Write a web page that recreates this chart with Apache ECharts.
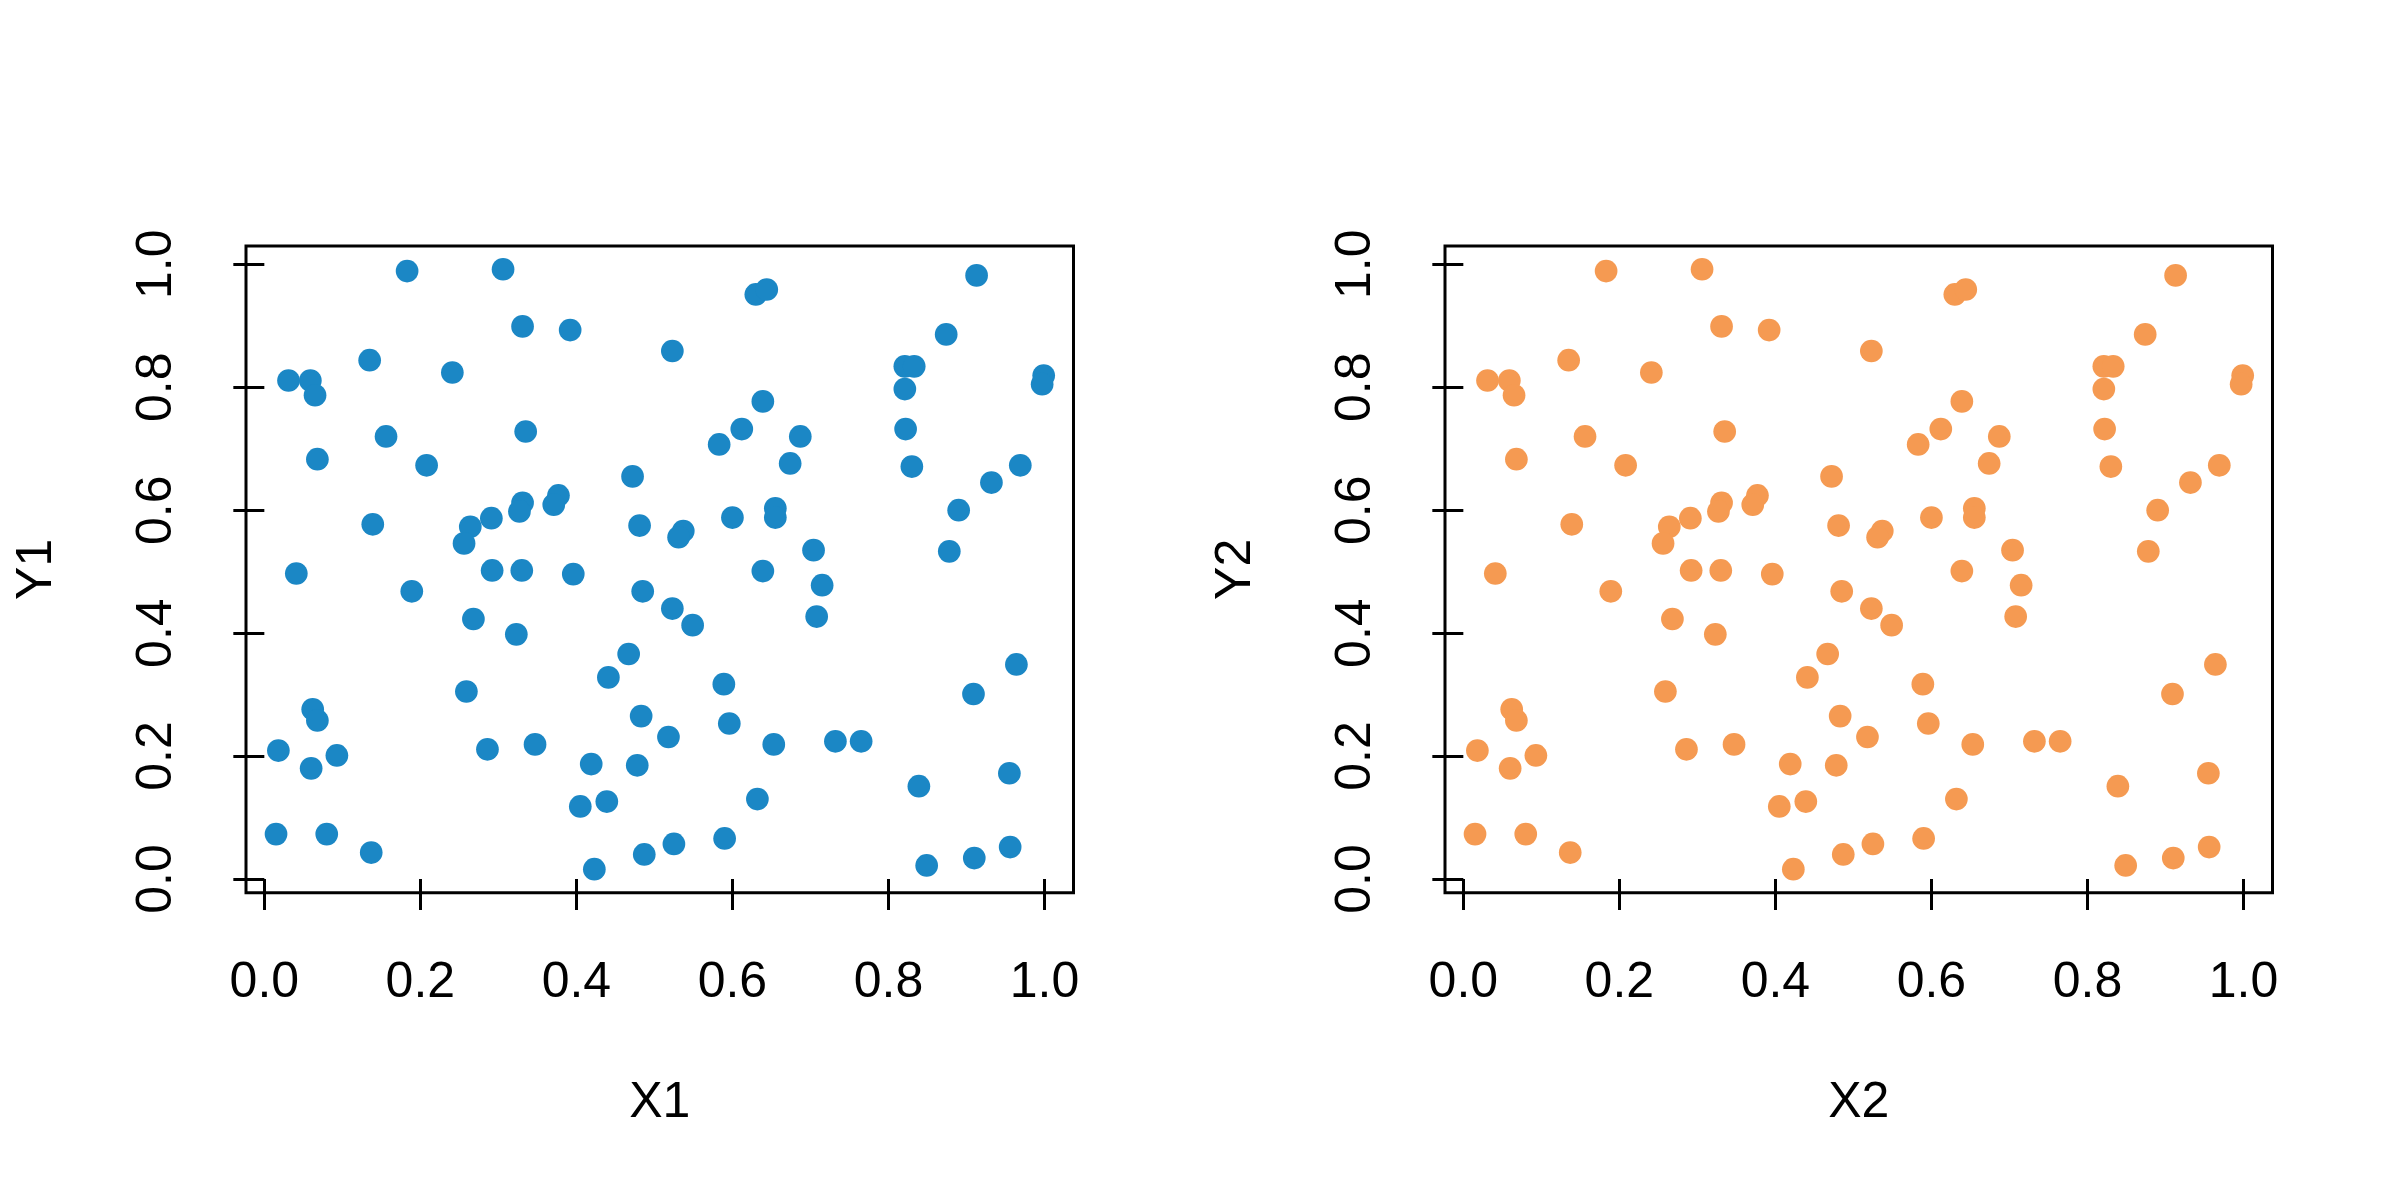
<!DOCTYPE html>
<html>
<head>
<meta charset="utf-8">
<style>
  html, body { margin: 0; padding: 0; background: #ffffff; }
  #chart { width: 2400px; height: 1200px; }
</style>
<script src="https://cdn.jsdelivr.net/npm/echarts@6/dist/echarts.min.js"></script>
</head>
<body>
<div id="chart"></div>
<script>
// ---- data ----
const X1 = [0.183,0.306,0.331,0.392,0.523,0.135,0.031,0.059,0.065,0.241,0.156,0.335,0.068,0.208,0.472,0.377,0.371,0.331,0.327,0.291,0.264,0.256,0.139,0.481,0.041,0.292,0.330,0.396,0.189,0.485,0.913,0.630,0.644,0.874,0.821,0.833,0.999,0.997,0.821,0.639,0.612,0.583,0.687,0.674,0.822,0.830,0.969,0.932,0.890,0.878,0.600,0.655,0.655,0.537,0.531,0.704,0.639,0.715,0.523,0.268,0.323,0.467,0.441,0.259,0.483,0.518,0.062,0.068,0.018,0.093,0.060,0.286,0.347,0.419,0.478,0.405,0.439,0.015,0.080,0.137,0.423,0.487,0.525,0.549,0.708,0.964,0.909,0.589,0.596,0.653,0.732,0.765,0.839,0.955,0.632,0.590,0.849,0.910,0.956];
const Y1 = [0.989,0.992,0.899,0.893,0.859,0.844,0.811,0.811,0.787,0.824,0.720,0.728,0.683,0.673,0.655,0.624,0.609,0.612,0.598,0.587,0.573,0.546,0.577,0.575,0.497,0.502,0.502,0.496,0.468,0.468,0.982,0.951,0.959,0.886,0.834,0.834,0.819,0.805,0.797,0.777,0.732,0.707,0.720,0.676,0.732,0.671,0.673,0.645,0.600,0.533,0.588,0.603,0.588,0.566,0.556,0.535,0.501,0.478,0.440,0.423,0.398,0.366,0.328,0.305,0.265,0.231,0.276,0.258,0.209,0.201,0.180,0.211,0.219,0.187,0.185,0.118,0.126,0.073,0.073,0.043,0.016,0.040,0.057,0.413,0.427,0.349,0.301,0.317,0.253,0.219,0.224,0.224,0.151,0.172,0.130,0.066,0.022,0.034,0.052];
const X2 = [0.183,0.306,0.331,0.392,0.523,0.135,0.031,0.059,0.065,0.241,0.156,0.335,0.068,0.208,0.472,0.377,0.371,0.331,0.327,0.291,0.264,0.256,0.139,0.481,0.041,0.292,0.330,0.396,0.189,0.485,0.913,0.630,0.644,0.874,0.821,0.833,0.999,0.997,0.821,0.639,0.612,0.583,0.687,0.674,0.822,0.830,0.969,0.932,0.890,0.878,0.600,0.655,0.655,0.537,0.531,0.704,0.639,0.715,0.523,0.268,0.323,0.467,0.441,0.259,0.483,0.518,0.062,0.068,0.018,0.093,0.060,0.286,0.347,0.419,0.478,0.405,0.439,0.015,0.080,0.137,0.423,0.487,0.525,0.549,0.708,0.964,0.909,0.589,0.596,0.653,0.732,0.765,0.839,0.955,0.632,0.590,0.849,0.910,0.956];
const Y2 = [0.989,0.992,0.899,0.893,0.859,0.844,0.811,0.811,0.787,0.824,0.720,0.728,0.683,0.673,0.655,0.624,0.609,0.612,0.598,0.587,0.573,0.546,0.577,0.575,0.497,0.502,0.502,0.496,0.468,0.468,0.982,0.951,0.959,0.886,0.834,0.834,0.819,0.805,0.797,0.777,0.732,0.707,0.720,0.676,0.732,0.671,0.673,0.645,0.600,0.533,0.588,0.603,0.588,0.566,0.556,0.535,0.501,0.478,0.440,0.423,0.398,0.366,0.328,0.305,0.265,0.231,0.276,0.258,0.209,0.201,0.180,0.211,0.219,0.187,0.185,0.118,0.126,0.073,0.073,0.043,0.016,0.040,0.057,0.413,0.427,0.349,0.301,0.317,0.253,0.219,0.224,0.224,0.151,0.172,0.130,0.066,0.022,0.034,0.052];
const TICKS = [0, 0.2, 0.4, 0.6, 0.8, 1.0];
const TICK_LABELS = ['0.0', '0.2', '0.4', '0.6', '0.8', '1.0'];
const X_NAMES = ['X1', 'X2'];
const Y_NAMES = ['Y1', 'Y2'];
const COLORS = ['#1b87c5', '#f59a52'];

// ---- layout ----
const FONT = 'Liberation Sans, Arial, Helvetica, sans-serif';
const FS = 50;
const gridLefts = [246, 1445];
const labelFmt = v => TICK_LABELS[TICKS.findIndex(t => Math.abs(t - v) < 1e-9)] || '';

function xAxis(i) {
  return {
    type: 'value', gridIndex: i, min: -0.0235, max: 1.0372,
    name: X_NAMES[i], nameLocation: 'middle', nameGap: 186,
    nameTextStyle: { fontFamily: FONT, fontSize: FS, color: '#000' },
    axisLine: { show: false },
    splitLine: { show: false },
    axisTick: { show: true, inside: false, length: 31, customValues: TICKS,
                lineStyle: { color: '#000', width: 3 } },
    axisLabel: { show: true, customValues: TICKS, margin: 66, formatter: labelFmt,
                 fontFamily: FONT, fontSize: FS, color: '#000', hideOverlap: false }
  };
}
function yAxis(i) {
  return {
    type: 'value', gridIndex: i, min: -0.0223, max: 1.0298,
    name: Y_NAMES[i], nameLocation: 'middle', nameGap: 184,
    nameTextStyle: { fontFamily: FONT, fontSize: FS, color: '#000' },
    axisLine: { show: false },
    splitLine: { show: false },
    axisTick: { show: true, inside: false, length: 31, customValues: TICKS,
                lineStyle: { color: '#000', width: 3 } },
    axisLabel: { show: true, customValues: TICKS, margin: 64, rotate: 90, formatter: labelFmt,
                 fontFamily: FONT, fontSize: FS, color: '#000', hideOverlap: false }
  };
}

const chart = echarts.init(document.getElementById('chart'), null, { renderer: 'canvas' });
chart.setOption({
  backgroundColor: '#ffffff',
  animation: false,
  grid: gridLefts.map(l => ({
    left: l, top: 246, width: 827.5, height: 646.7,
    show: true, borderColor: '#000', borderWidth: 3, backgroundColor: 'transparent',
    containLabel: false
  })),
  xAxis: [xAxis(0), xAxis(1)],
  yAxis: [yAxis(0), yAxis(1)],
  series: [
    { type: 'scatter', xAxisIndex: 0, yAxisIndex: 0, symbol: 'circle', symbolSize: 22.7,
      itemStyle: { color: COLORS[0], opacity: 1 }, emphasis: { disabled: true },
      data: X1.map((x, k) => [x, Y1[k]]) },
    { type: 'scatter', xAxisIndex: 1, yAxisIndex: 1, symbol: 'circle', symbolSize: 22.7,
      itemStyle: { color: COLORS[1], opacity: 1 }, emphasis: { disabled: true },
      data: X2.map((x, k) => [x, Y2[k]]) }
  ]
});
</script>
</body>
</html>
